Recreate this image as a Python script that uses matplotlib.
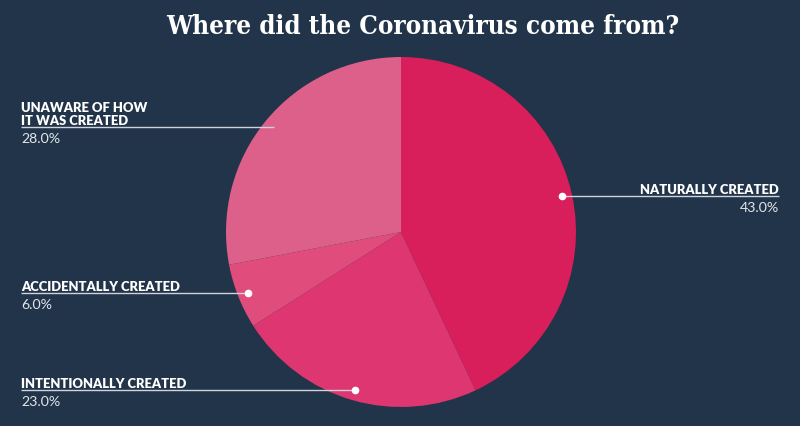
import numpy as np
import matplotlib
matplotlib.use("Agg")
import matplotlib.pyplot as plt
from matplotlib import font_manager

title = "Where did the Coronavirus come from?"
categories = ["NATURALLY CREATED", "INTENTIONALLY CREATED", "ACCIDENTALLY CREATED", "UNAWARE OF HOW\nIT WAS CREATED"]
values = [43.0, 23.0, 6.0, 28.0]
colors = ["#d81e5b", "#dd3670", "#e04d7d", "#dc6089"]

BG = "#213449"
W, H = 800, 427
fig = plt.figure(figsize=(W / 100, H / 100), dpi=100, facecolor=BG)
ax = fig.add_axes([0, 0, 1, 1])
ax.set_facecolor(BG)

cx, cy, R = 401, H - 233, 175
wedges, _ = ax.pie(values, colors=colors, startangle=90, counterclock=False,
                   center=(cx, cy), radius=R, frame=True,
                   wedgeprops=dict(linewidth=0))
ax.set_xlim(0, W)
ax.set_ylim(0, H)
ax.set_aspect("equal")
ax.axis("off")

layout = [("right", 779, True), ("left", 21, True),
          ("left", 21, True), ("left", 21, False)]
line_col = "#cfd3da"
for w, cat, val, (side, xt, dot) in zip(wedges, categories, values, layout):
    ang = np.deg2rad((w.theta1 + w.theta2) / 2)
    dx = cx + 0.94 * R * np.cos(ang)
    y = cy + 0.94 * R * np.sin(ang)
    ax.plot([dx, xt], [y, y], color=line_col, lw=1.0, solid_capstyle="butt", zorder=3)
    if dot:
        ax.plot([dx], [y], "o", color="white", ms=4.5, mec="white", zorder=4)
    ha = "right" if side == "right" else "left"
    ax.text(xt, y + 3, cat, ha=ha, va="baseline", color="white",
            fontfamily="Lato", fontweight="heavy", fontsize=9.4, linespacing=1.1, zorder=5)
    ax.text(xt, y - 5, f"{val:.1f}%", ha=ha, va="top", color="#e3e6ea",
            fontfamily="Lato", fontsize=10.2, zorder=5)

cond = [f for f in font_manager.fontManager.ttflist
        if f.name == "DejaVu Serif" and "ondensed" in f.fname and "Bold" in f.fname]
if cond:
    fig.text(423 / W, 1 - 27 / H, title, ha="center", va="center", color="white",
             fontfamily="DejaVu Serif", fontstretch="condensed", fontweight="bold", fontsize=18.6)
else:
    fig.text(423 / W, 1 - 27 / H, title, ha="center", va="center", color="white",
             fontfamily="Liberation Serif", fontweight="bold", fontsize=21.5)

fig.savefig("out.png", dpi=100, facecolor=BG)
